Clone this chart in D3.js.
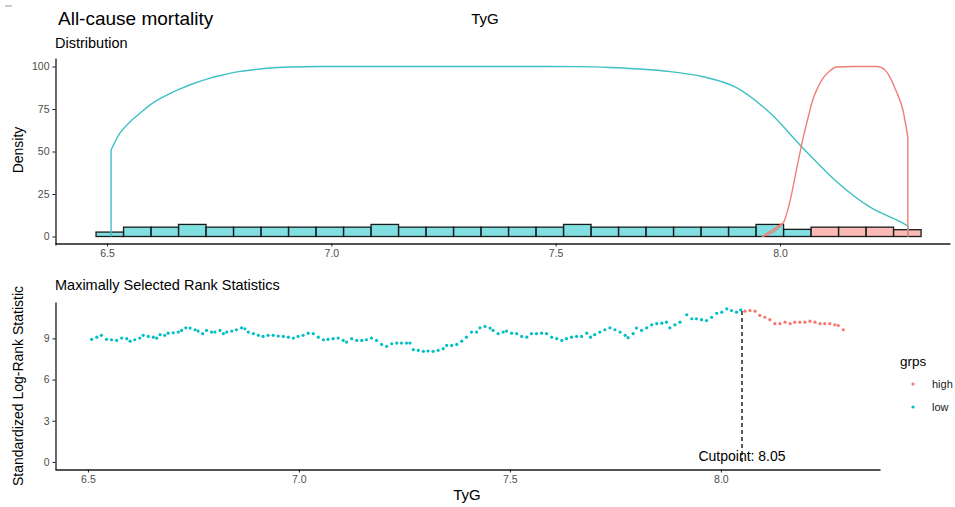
<!DOCTYPE html>
<html><head><meta charset="utf-8">
<script src="https://cdn.jsdelivr.net/npm/d3@7"></script>
<style>
body{margin:0;background:#fff;}
text{font-family:"Liberation Sans",Arial,Helvetica,sans-serif;}
</style></head>
<body><svg id="c" width="955" height="507"></svg>
<script>
// ---------- data ----------
const mainTitle = "All-cause mortality";
const varName = "TyG";
const groups = ["high", "low"];
const groupColors = ["#F8766D", "#00BFC4"];

// histogram (30 bins)
const binStart = 6.4755;
const binWidth = 0.0613;
const lowHist  = [2.6,5.5,5.5,7.1,5.5,5.5,5.5,5.5,5.5,5.5,7.1,5.5,5.5,5.5,5.5,5.5,5.5,7.1,5.5,5.5,5.5,5.5,5.5,5.5,7.1,4.2,0,0,0,0];
const highHist = [0,0,0,0,0,0,0,0,0,0,0,0,0,0,0,0,0,0,0,0,0,0,0,0,0,0,5.5,5.5,5.5,4.0];

// scaled density curves (first and last points are the vertical edges)
const lowDensX = [6.509,6.509,6.529,6.551,6.574,6.596,6.629,6.663,6.696,6.730,6.763,6.796,6.830,6.863,6.908,6.975,7.064,7.153,7.264,7.376,7.487,7.554,7.621,7.688,7.755,7.828,7.904,7.978,8.051,8.127,8.200,8.274,8.285,8.285];
const lowDensY = [0,50.9,60.9,67.4,72.6,77.4,82.6,86.8,90.3,93.2,95.3,97.1,98.2,99.1,99.7,100,100,100,100,100,100,99.9,99.4,98.5,97.0,94.0,87.4,72.6,52.1,32.1,17.4,7.9,6.2,0];
const highDensX = [7.960,8.007,8.023,8.038,8.052,8.063,8.073,8.084,8.096,8.111,8.127,8.163,8.216,8.234,8.245,8.258,8.274,8.285,8.285];
const highDensY = [0,7.9,21.5,40.9,58.5,70.3,80.3,87.4,93.2,97.4,99.7,100,100,97.9,93.8,86.2,74.4,58.5,0];

// maximally selected rank statistics
const statX = [6.509,6.521,6.532,6.544,6.556,6.568,6.580,6.592,6.600,6.611,6.623,6.631,6.643,6.655,6.663,6.671,6.682,6.690,6.702,6.714,6.722,6.732,6.742,6.754,6.761,6.772,6.781,6.793,6.801,6.813,6.821,6.829,6.841,6.852,6.864,6.872,6.880,6.892,6.904,6.915,6.927,6.939,6.951,6.963,6.975,6.987,6.998,7.010,7.022,7.034,7.046,7.058,7.069,7.081,7.093,7.105,7.113,7.125,7.137,7.149,7.160,7.172,7.184,7.196,7.208,7.220,7.232,7.243,7.255,7.263,7.271,7.283,7.295,7.306,7.318,7.330,7.342,7.350,7.362,7.374,7.386,7.397,7.409,7.421,7.429,7.441,7.453,7.460,7.472,7.484,7.492,7.504,7.516,7.528,7.540,7.551,7.563,7.575,7.587,7.599,7.611,7.623,7.634,7.646,7.658,7.670,7.682,7.691,7.701,7.713,7.725,7.737,7.749,7.761,7.773,7.780,7.792,7.800,7.812,7.824,7.836,7.848,7.860,7.871,7.879,7.891,7.903,7.919,7.931,7.942,7.954,7.966,7.978,7.990,8.002,8.014,8.025,8.037,8.047,8.057,8.069,8.081,8.092,8.104,8.116,8.128,8.140,8.152,8.164,8.175,8.187,8.199,8.211,8.223,8.235,8.246,8.258,8.270,8.278,8.290];
const statY = [8.93,9.09,9.22,8.93,8.90,8.85,9.02,8.98,8.80,8.90,9.02,9.22,9.14,9.09,9.02,9.27,9.22,9.38,9.41,9.46,9.58,9.77,9.75,9.63,9.53,9.34,9.58,9.46,9.46,9.58,9.34,9.46,9.53,9.63,9.77,9.70,9.46,9.34,9.22,9.14,9.22,9.22,9.17,9.14,9.09,9.02,9.14,9.22,9.38,9.34,9.09,8.90,8.93,8.98,9.02,8.85,8.73,8.98,8.85,8.85,8.90,9.02,8.85,8.56,8.42,8.61,8.66,8.66,8.66,8.66,8.18,8.13,8.06,8.08,8.06,8.13,8.25,8.49,8.49,8.56,8.80,9.09,9.46,9.46,9.77,9.87,9.75,9.58,9.34,9.46,9.53,9.38,9.34,9.14,9.09,9.34,9.34,9.38,9.34,9.09,8.98,8.85,8.98,9.09,9.14,9.14,9.38,9.09,9.27,9.46,9.63,9.77,9.63,9.46,9.22,9.05,9.34,9.75,9.58,9.77,9.99,10.07,10.11,10.18,9.77,9.99,10.18,10.72,10.43,10.43,10.36,10.30,10.54,10.83,10.91,11.15,11.03,10.91,11.08,10.98,11.03,10.98,10.67,10.54,10.36,10.07,10.07,10.18,10.07,10.18,10.18,10.18,10.25,10.18,10.07,10.07,10.07,9.99,9.94,9.63];
const cutpoint = 8.05;

const topYTicks = [0,25,50,75,100];
const xTicks = [6.5,7.0,7.5,8.0];
const botYTicks = [0,3,6,9];

// ---------- drawing ----------
const svg = d3.select("#c");
const ink = "#1a1a1a", tickCol = "#4d4d4d";

svg.append("line").attr("x1",5).attr("x2",12).attr("y1",6).attr("y2",6).attr("stroke","#999").attr("stroke-width",1);

svg.append("text").attr("x",58).attr("y",25).attr("font-size",19).attr("fill","#000").text(mainTitle);
svg.append("text").attr("x",485).attr("y",24).attr("font-size",15).attr("text-anchor","middle").attr("fill","#000").text(varName);
svg.append("text").attr("x",55).attr("y",48).attr("font-size",14.5).attr("fill","#000").text("Distribution");
svg.append("text").attr("x",55).attr("y",290).attr("font-size",14.5).attr("fill","#000").text("Maximally Selected Rank Statistics");

// top panel
const xT = d3.scaleLinear().domain([6.384, 8.379]).range([55, 950]);
const yT = d3.scaleLinear().domain([-5, 105]).range([245, 58]);

function drawHist(vals, col){
  const g = svg.append("g");
  vals.forEach((v,i)=>{
    if(v<=0) return;
    const x0 = binStart + i*binWidth;
    g.append("rect").attr("x",xT(x0)).attr("width",xT(x0+binWidth)-xT(x0))
      .attr("y",yT(v)).attr("height",yT(0)-yT(v))
      .attr("fill",col).attr("fill-opacity",0.5).attr("stroke",ink).attr("stroke-width",1.3);
  });
}
drawHist(lowHist, groupColors[1]);
drawHist(highHist, groupColors[0]);

function drawDensity(xs, ys, col){
  const pts = xs.map((x,i)=>[x,ys[i]]);
  const n = pts.length;
  const g = svg.append("g").attr("fill","none").attr("stroke",col).attr("stroke-width",1.4);
  // vertical edges
  g.append("line").attr("x1",xT(pts[0][0])).attr("x2",xT(pts[1][0])).attr("y1",yT(pts[0][1])).attr("y2",yT(pts[1][1]));
  g.append("line").attr("x1",xT(pts[n-2][0])).attr("x2",xT(pts[n-1][0])).attr("y1",yT(pts[n-2][1])).attr("y2",yT(pts[n-1][1]));
  const inner = (pts[0][0]===pts[1][0]) ? pts.slice(1, n-1) : pts.slice(0, n-1);
  g.append("path").datum(inner)
    .attr("d", d3.line().x(d=>xT(d[0])).y(d=>yT(d[1])).curve(d3.curveMonotoneX));
}
drawDensity(lowDensX, lowDensY, "#3fc0c4");
drawDensity(highDensX, highDensY, "#ef7f78");

const axT = svg.append("g").attr("transform","translate(0,243.5)")
  .call(d3.axisBottom(xT).tickValues(xTicks).tickFormat(d3.format(".1f")).tickSize(3).tickSizeOuter(0));
const ayT = svg.append("g").attr("transform","translate(55.5,0)")
  .call(d3.axisLeft(yT).tickValues(topYTicks).tickSize(3).tickSizeOuter(0));
svg.append("text").attr("transform","translate(23,150) rotate(-90)").attr("text-anchor","middle")
  .attr("font-size",14).attr("fill","#000").text("Density");

// bottom panel
const xB = d3.scaleLinear().domain([6.422, 8.377]).range([55, 880]);
const yB = d3.scaleLinear().domain([-0.55, 11.65]).range([469.5, 302]);

svg.append("line").attr("x1",xB(cutpoint)).attr("x2",xB(cutpoint)).attr("y1",yB(11.0)).attr("y2",yB(0))
  .attr("stroke","#000").attr("stroke-width",1.3).attr("stroke-dasharray","4,3");

svg.append("g").selectAll("circle").data(statX.map((x,i)=>[x,statY[i]])).join("circle")
  .attr("cx",d=>xB(d[0])).attr("cy",d=>yB(d[1])).attr("r",1.6)
  .attr("fill",d=>d[0]<=cutpoint?groupColors[1]:groupColors[0]);

svg.append("text").attr("x",xB(cutpoint)).attr("y",461).attr("text-anchor","middle")
  .attr("font-size",14).attr("fill","#000").text("Cutpoint: " + cutpoint.toFixed(2));

const axB = svg.append("g").attr("transform","translate(0,469.5)")
  .call(d3.axisBottom(xB).tickValues(xTicks).tickFormat(d3.format(".1f")).tickSize(3).tickSizeOuter(0));
const ayB = svg.append("g").attr("transform","translate(55.5,0)")
  .call(d3.axisLeft(yB).tickValues(botYTicks).tickSize(3).tickSizeOuter(0));
svg.append("text").attr("transform","translate(23,386) rotate(-90)").attr("text-anchor","middle")
  .attr("font-size",14).attr("fill","#000").text("Standardized Log-Rank Statistic");
svg.append("text").attr("x",467).attr("y",500).attr("text-anchor","middle")
  .attr("font-size",15).attr("fill","#000").text(varName);

[axT,ayT,axB,ayB].forEach(a=>{
  a.select(".domain").attr("stroke",ink).attr("stroke-width",1.3);
  a.selectAll(".tick line").attr("stroke",ink);
  a.selectAll(".tick text").attr("fill",tickCol).attr("font-size",10.5)
    .attr("font-family","Liberation Sans,Arial,sans-serif");
});

// legend
svg.append("text").attr("x",900).attr("y",366).attr("font-size",13.5).attr("fill","#000").text("grps");
groups.forEach((g,i)=>{
  const y = 384 + i*23;
  svg.append("circle").attr("cx",913).attr("cy",y).attr("r",1.6).attr("fill",groupColors[i]);
  svg.append("text").attr("x",932).attr("y",y+4).attr("font-size",11).attr("fill","#1a1a1a").text(g);
});
</script></body></html>
